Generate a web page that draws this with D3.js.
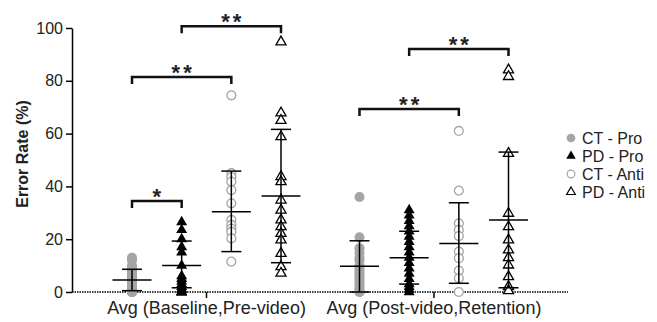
<!DOCTYPE html>
<html>
<head>
<meta charset="utf-8">
<script src="https://cdn.jsdelivr.net/npm/d3@7"></script>
<style>
	body { margin: 0; background: #fff; }
	svg { display: block; font-family: "Liberation Sans", Arial, sans-serif; }
</style>
</head>
<body>
<svg id="chart" width="657" height="322"></svg>
<script>
// groups on the x axis and the four series inside each group
var groups = ["Avg (Baseline,Pre-video)", "Avg (Post-video,Retention)"];
var series = ["CT - Pro", "PD - Pro", "CT - Anti", "PD - Anti"];

// individual error rates (%), one array per group
var ctPro = [
	[0, 0, 0, 0, 0, 1, 1, 2, 3, 3, 4, 5, 6, 6, 7, 8, 9, 10, 12, 13],
	[36, 20.7, 16.6, 15, 13, 12, 10, 9, 8, 7, 6, 5, 4, 3, 2, 1, 0, 0]
];
var pdPro = [
	[0, 0, 0, 0, 0, 1, 1, 2, 3, 4, 5, 6, 10, 15, 17, 20, 23.5, 26.5],
	[31, 29, 27, 25, 23, 21, 19, 17, 15, 13, 11, 9, 7, 5, 3, 2, 1, 0]
];
var ctAnti = [
	[74.5, 45, 43.5, 41.8, 38.6, 33.6, 27.3, 25.4, 24, 22.8, 20.3, 11.5],
	[61, 38.4, 26, 23.5, 21.2, 15.3, 12.8, 8.1, 5.2, 0]
];
var pdAnti = [
	[94.7, 67.8, 65, 58.8, 43.7, 41.8, 34.8, 31, 27.3, 24.7, 22.2, 19.7, 14.6, 9.6, 7.1],
	[84.1, 81.6, 52.5, 29.8, 24.7, 19.7, 15.9, 13, 10.2, 5.8, 2, 0.5]
];

// mean and mean +/- SD, per group, in series order
var means  = [[4.5, 10, 30.4, 36.4], [9.8, 13, 18.4, 27.3]];
var sdLow  = [[0.5, 1.6, 15.3, 11.1], [0, 3, 3.3, 1.6]];
var sdHigh = [[8.6, 19.3, 45.8, 61.6], [19.4, 23, 33.8, 53]];

var yTicks = [0, 20, 40, 60, 80, 100];

// significance brackets: group, from series, to series, height (%), label
var brackets = [
	{ g: 0, a: 0, b: 1, level: 34.5, label: "*" },
	{ g: 0, a: 0, b: 2, level: 81.4, label: "**" },
	{ g: 0, a: 1, b: 3, level: 100.7, label: "**" },
	{ g: 1, a: 0, b: 2, level: 69.3, label: "**" },
	{ g: 1, a: 1, b: 3, level: 92, label: "**" }
];

var allValues = [ctPro, pdPro, ctAnti, pdAnti];
var gray = "#a5a5a5";

var styles = [
	{ shape: d3.symbolCircle, size: 80, fill: gray, stroke: "none" },
	{ shape: d3.symbolTriangle, size: 52, fill: "#000", stroke: "none" },
	{ shape: d3.symbolCircle, size: 62, fill: "#fff", stroke: gray },
	{ shape: d3.symbolTriangle, size: 44, fill: "#fff", stroke: "#000" }
];

var svg = d3.select("#chart");

var x0 = d3.scaleBand().domain(groups).range([92.75, 547.75]);
var x1 = d3.scalePoint().domain(d3.range(series.length)).range([-74.5, 74.5]);
var y = d3.scaleLinear().domain([0, 100]).range([292, 28]);

function cx(g, s){ return x0(groups[g]) + x0.bandwidth() / 2 + x1(s); }

// y axis
var yAxis = svg.append("g")
	.attr("transform", "translate(72,0)")
	.call(d3.axisLeft(y).tickValues(yTicks).tickSize(6).tickSizeOuter(0).tickPadding(3));
yAxis.select(".domain").attr("stroke-width", 1.5);
yAxis.selectAll(".tick line").attr("stroke-width", 1.5);
yAxis.selectAll("text").attr("font-size", 16).attr("fill", "#222").attr("font-family", null);

svg.append("text")
	.attr("transform", "translate(28," + (y(50) - 6) + ") rotate(-90)")
	.attr("text-anchor", "middle")
	.attr("font-size", 16)
	.attr("font-weight", "bold")
	.attr("fill", "#222")
	.text("Error Rate (%)");

// x axis (dotted baseline)
var xAxis = svg.append("g")
	.attr("transform", "translate(0," + y(0) + ")")
	.call(d3.axisBottom(x0).tickSize(6).tickSizeOuter(0).tickPadding(3));
xAxis.select(".domain").remove();
xAxis.selectAll(".tick line").attr("stroke-width", 1.5);
xAxis.selectAll("text").attr("font-size", 18).attr("fill", "#222").attr("font-family", null);

svg.append("line")
	.attr("x1", 72).attr("x2", 568)
	.attr("y1", y(0)).attr("y2", y(0))
	.attr("stroke", "#000")
	.attr("stroke-width", 1.5)
	.attr("stroke-dasharray", "1.5,1");

// points
var pts = [];
allValues.forEach(function(vals, s){
	vals.forEach(function(list, g){
		list.forEach(function(v){ pts.push({ s: s, g: g, v: v }); });
	});
});

svg.append("g").selectAll("path")
	.data(pts)
	.join("path")
	.attr("transform", function(d){ return "translate(" + cx(d.g, d.s) + "," + y(d.v) + ")"; })
	.attr("d", function(d){ return d3.symbol(styles[d.s].shape, styles[d.s].size)(); })
	.attr("fill", function(d){ return styles[d.s].fill; })
	.attr("stroke", function(d){ return styles[d.s].stroke; })
	.attr("stroke-width", 1.3);

// mean and SD bars
var bars = [];
means.forEach(function(row, g){
	row.forEach(function(m, s){
		bars.push({ g: g, s: s, m: m, lo: sdLow[g][s], hi: sdHigh[g][s] });
	});
});

var bar = svg.append("g").selectAll("g")
	.data(bars)
	.join("g")
	.attr("stroke", "#000")
	.attr("stroke-width", 1.5);

bar.append("line")
	.attr("x1", function(d){ return cx(d.g, d.s); })
	.attr("x2", function(d){ return cx(d.g, d.s); })
	.attr("y1", function(d){ return y(d.lo); })
	.attr("y2", function(d){ return y(d.hi); });
bar.append("line")
	.attr("x1", function(d){ return cx(d.g, d.s) - 19.5; })
	.attr("x2", function(d){ return cx(d.g, d.s) + 19.5; })
	.attr("y1", function(d){ return y(d.m); })
	.attr("y2", function(d){ return y(d.m); });
bar.selectAll(".cap")
	.data(function(d){ return [{ d: d, v: d.lo }, { d: d, v: d.hi }]; })
	.join("line")
	.attr("class", "cap")
	.attr("x1", function(c){ return cx(c.d.g, c.d.s) - 10; })
	.attr("x2", function(c){ return cx(c.d.g, c.d.s) + 10; })
	.attr("y1", function(c){ return y(c.v); })
	.attr("y2", function(c){ return y(c.v); });

// significance brackets
var br = svg.append("g").selectAll("g")
	.data(brackets)
	.join("g");

br.append("path")
	.attr("d", function(d){
		var xa = cx(d.g, d.a), xb = cx(d.g, d.b), yy = y(d.level);
		return "M" + xa + "," + (yy + 7) + "V" + yy + "H" + xb + "V" + (yy + 7);
	})
	.attr("fill", "none")
	.attr("stroke", "#111")
	.attr("stroke-width", 2.5);

br.append("text")
	.attr("x", function(d){ return (cx(d.g, d.a) + cx(d.g, d.b)) / 2 + 1.5; })
	.attr("y", function(d){ return y(d.level) + 3; })
	.attr("text-anchor", "middle")
	.attr("font-size", 22)
	.attr("font-weight", "bold")
	.attr("letter-spacing", 3)
	.attr("fill", "#222")
	.text(function(d){ return d.label; });

// legend
var legend = svg.append("g")
	.attr("transform", "translate(571,138)")
	.selectAll("g")
	.data(series)
	.join("g")
	.attr("transform", function(d, i){ return "translate(0," + (i * 18) + ")"; });

legend.append("path")
	.attr("d", function(d, i){ return d3.symbol(styles[i].shape, styles[i].size * 0.75)(); })
	.attr("fill", function(d, i){ return styles[i].fill; })
	.attr("stroke", function(d, i){ return styles[i].stroke; })
	.attr("stroke-width", 1.2);

legend.append("text")
	.attr("x", 11)
	.attr("dy", "0.35em")
	.attr("font-size", 16)
	.attr("fill", "#222")
	.text(function(d){ return d; });
</script>
</body>
</html>
